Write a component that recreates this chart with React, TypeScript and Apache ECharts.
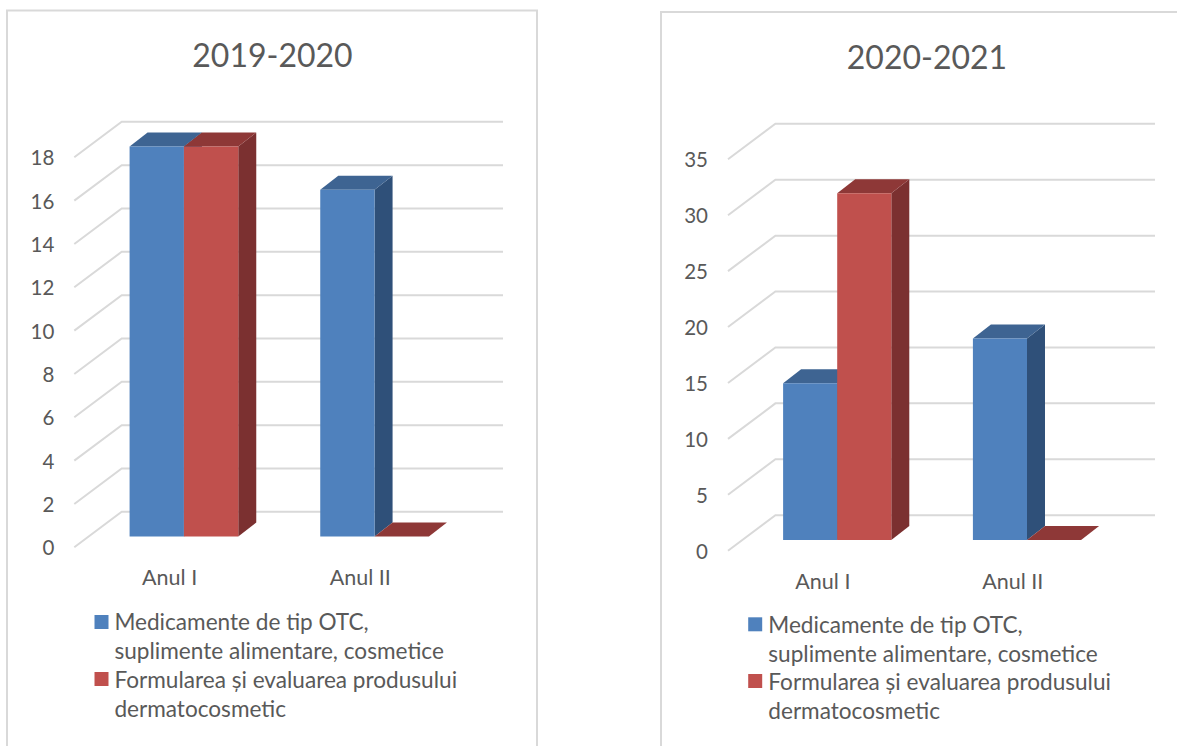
import React, { useEffect, useRef } from "react";
import * as echarts from "echarts";

const categories = ["Anul I", "Anul II"];
const seriesNames = [
  "Medicamente de tip OTC,\nsuplimente alimentare, cosmetice",
  "Formularea și evaluarea produsului\ndermatocosmetic",
];
const titleA = "2019-2020";
const titleB = "2020-2021";
const otcA = [18, 16];
const dermaA = [18, 0];
const otcB = [14, 18];
const dermaB = [31, 0];
const ticksA = [0, 2, 4, 6, 8, 10, 12, 14, 16, 18];
const ticksB = [0, 5, 10, 15, 20, 25, 30, 35];

const FONT = "Lato";
const TEXT = "#595959";
const GRID_LINE = "#d9d9d9";
const PALETTE = [
  { front: "#4f81bd", top: "#3e6492", side: "#2f5079" },
  { front: "#c0504d", top: "#8e3837", side: "#7b3030" },
];

function wallSeries(ticks: number[], axis: number, backRight: number) {
  return {
    type: "custom",
    name: "wall" + axis,
    xAxisIndex: axis,
    yAxisIndex: axis,
    silent: true,
    clip: false,
    z: 1,
    data: ticks.map((t) => [0, t]),
    encode: { x: 0, y: 1 },
    renderItem: (params: any, api: any) => {
      const y = api.coord([0, api.value(1)])[1];
      const x = params.coordSys.x;
      return {
        type: "polyline",
        shape: { points: [[x, y], [x + 47.4, y - 35.5], [backRight, y - 35.5]] },
        style: { stroke: GRID_LINE, lineWidth: 2, fill: "none" },
      };
    },
  };
}

function barSeries(values: number[], idx: number, axis: number) {
  const c = PALETTE[idx];
  return {
    type: "custom",
    name: seriesNames[idx],
    xAxisIndex: axis,
    yAxisIndex: axis,
    silent: true,
    clip: false,
    z: 2 + idx,
    itemStyle: { color: c.front },
    data: values.map((v, i) => [i, v]),
    encode: { x: 0, y: 1 },
    renderItem: (params: any, api: any) => {
      const base = api.coord([api.value(0), 0]);
      const topPt = api.coord([api.value(0), api.value(1)]);
      const w = api.size([1, 0])[0] * 0.285;
      const shiftX = 14.3;
      const shiftY = -10.8;
      const dx = 18;
      const dy = -14;
      const x0 = base[0] + shiftX + (idx === 0 ? -w : 0);
      const x1 = x0 + w;
      const yb = base[1] + shiftY;
      const yt = topPt[1] + shiftY;
      const children: any[] = [];
      if (yb - yt > 0.5) {
        children.push({
          type: "polygon",
          shape: { points: [[x1, yb], [x1 + dx, yb + dy], [x1 + dx, yt + dy], [x1, yt]] },
          style: { fill: c.side },
        });
      }
      children.push({
        type: "polygon",
        shape: { points: [[x0, yt], [x1, yt], [x1 + dx, yt + dy], [x0 + dx, yt + dy]] },
        style: { fill: c.top },
      });
      if (yb - yt > 0.5) {
        children.push({
          type: "rect",
          shape: { x: x0, y: yt, width: w, height: yb - yt },
          style: { fill: c.front },
        });
      }
      return { type: "group", children };
    },
  };
}

function legendGraphics(swatchX: number, textX: number, rowsY: number[], textY: number[]) {
  const out: any[] = [];
  seriesNames.forEach((name, i) => {
    out.push({
      type: "rect",
      shape: { x: swatchX, y: rowsY[i], width: 14, height: 14 },
      style: { fill: PALETTE[i].front },
    });
    name.split("\n").forEach((line, j) => {
      out.push({
        type: "text",
        style: {
          text: line,
          x: textX,
          y: textY[i] + j * 29,
          fill: TEXT,
          font: `22.6px ${FONT}`,
          verticalAlign: "middle",
        },
      });
    });
  });
  return out;
}

function panel(points: number[][]) {
  return {
    type: "polyline",
    shape: { points },
    style: { stroke: GRID_LINE, lineWidth: 2, fill: "none" },
  };
}

export default function App() {
  const ref = useRef<HTMLDivElement>(null);
  useEffect(() => {
    const chart = echarts.init(ref.current!, undefined, { renderer: "svg" });
    const titleStyle = { color: TEXT, fontFamily: FONT, fontSize: 32, fontWeight: "normal" as const };
    chart.setOption({
      animation: false,
      backgroundColor: "#ffffff",
      title: [
        { text: titleA, left: 267.5, top: 33, textAlign: "center", textStyle: titleStyle },
        { text: titleB, left: 922, top: 35, textAlign: "center", textStyle: titleStyle },
      ],
      grid: [
        { left: 74.3, top: 157.3, width: 381.3, height: 390 },
        { left: 728, top: 159.3, width: 379.6, height: 391.4 },
      ],
      xAxis: [0, 1].map((i) => ({
        type: "category",
        gridIndex: i,
        data: categories,
        axisLine: { show: false },
        axisTick: { show: false },
        splitLine: { show: false },
        axisLabel: { color: TEXT, fontFamily: FONT, fontSize: 21.5, margin: 19 },
      })),
      yAxis: [
        { max: 18, interval: 2 },
        { max: 35, interval: 5 },
      ].map((a, i) => ({
        type: "value",
        gridIndex: i,
        min: 0,
        max: a.max,
        interval: a.interval,
        axisLine: { show: false },
        axisTick: { show: false },
        splitLine: { show: false },
        axisLabel: { color: TEXT, fontFamily: FONT, fontSize: 20.5, margin: 20 },
      })),
      series: [
        wallSeries(ticksA, 0, 503),
        barSeries(otcA, 0, 0),
        barSeries(dermaA, 1, 0),
        wallSeries(ticksB, 1, 1155),
        barSeries(otcB, 0, 1),
        barSeries(dermaB, 1, 1),
      ],
      graphic: [
        panel([[7, 746], [7, 10.5], [537, 10.5], [537, 746]]),
        panel([[661, 746], [661, 12], [1177, 12]]),
        ...legendGraphics(94.5, 114.4, [615, 672], [621.7, 679.5]),
        ...legendGraphics(748.2, 768.3, [617.3, 674], [624, 681.5]),
      ],
    });
    return () => chart.dispose();
  }, []);
  return (
    <div
      ref={ref}
      style={{ position: "absolute", left: 0, top: 0, width: 1177, height: 746, background: "#fff" }}
    />
  );
}
